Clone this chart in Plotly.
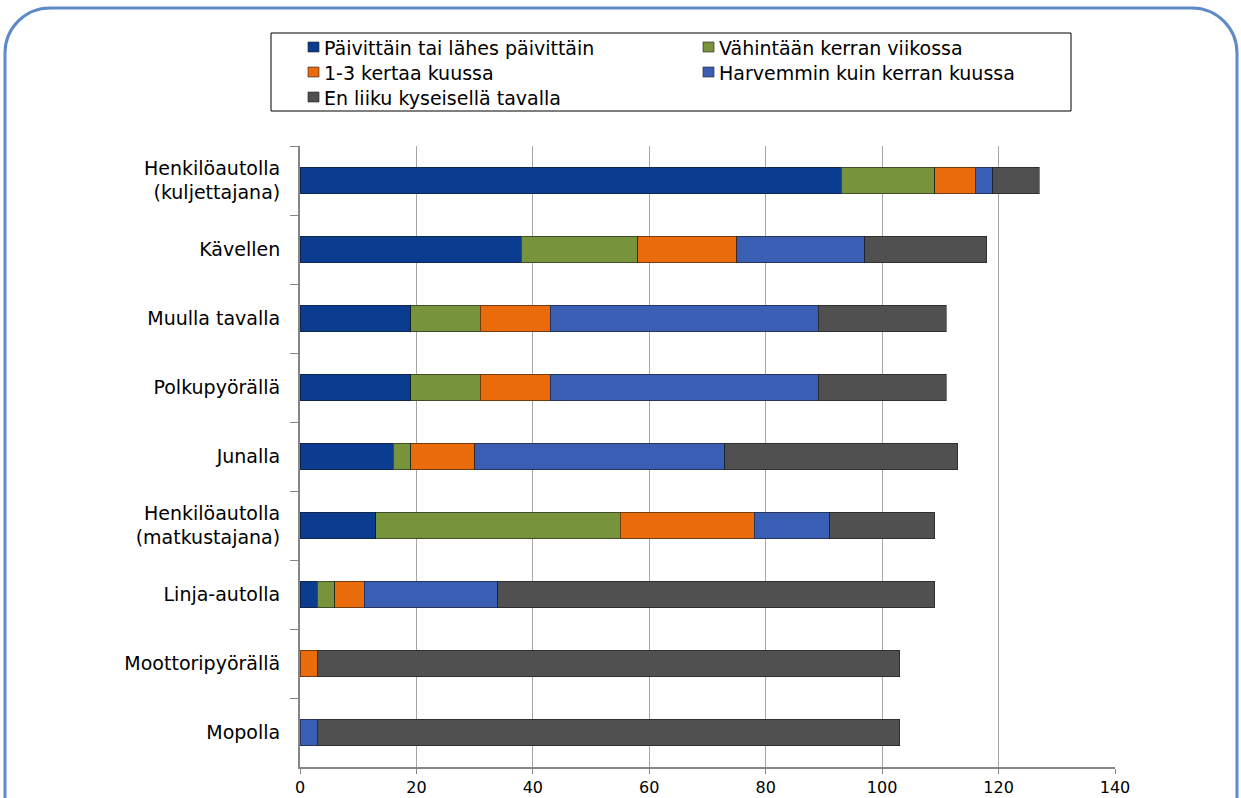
import plotly.graph_objects as go

# ---------------- data ----------------
categories = [
    "Henkilöautolla<br>(kuljettajana)",
    "Kävellen",
    "Muulla tavalla",
    "Polkupyörällä",
    "Junalla",
    "Henkilöautolla<br>(matkustajana)",
    "Linja-autolla",
    "Moottoripyörällä",
    "Mopolla",
]
series_names = [
    "Päivittäin tai lähes päivittäin",
    "Vähintään kerran viikossa",
    "1-3 kertaa kuussa",
    "Harvemmin kuin kerran kuussa",
    "En liiku kyseisellä tavalla",
]
paivittain = [93, 38, 19, 19, 16, 13, 3, 0, 0]
viikossa = [16, 20, 12, 12, 3, 42, 3, 0, 0]
kuussa_1_3 = [7, 17, 12, 12, 11, 23, 5, 3, 0]
harvemmin = [3, 22, 46, 46, 43, 13, 23, 0, 3]
en_liiku = [8, 21, 22, 22, 40, 18, 75, 100, 100]
x_ticks = [0, 20, 40, 60, 80, 100, 120, 140]

series_values = [paivittain, viikossa, kuussa_1_3, harvemmin, en_liiku]
colors = ["#0C3C90", "#77933C", "#E96B0C", "#3B5EB5", "#505050"]

# ---------------- layout helpers ----------------
W, H = 1241, 798
L, R, T, B = 300, 126, 146, 31
PW = W - L - R
PH = H - T - B


def pxx(x):
    return (x - L) / PW


def pyy(y):
    return (H - B - y) / PH


FONT = "DejaVu Sans, Liberation Sans, Arial, sans-serif"

fig = go.Figure()
for name, vals, col in zip(series_names, series_values, colors):
    fig.add_trace(go.Bar(
        x=vals, y=categories, orientation="h", name=name,
        marker=dict(color=col, line=dict(color="rgba(20,20,20,0.55)", width=1)),
        showlegend=False,
    ))

# outer rounded border (open at the bottom)
xl, xr, yt, yb = pxx(5), pxx(1237), pyy(8), pyy(900)
rx, ry = 45 / PW, 45 / PH
k = 0.5523
border_path = (
    f"M {xl},{yb} L {xl},{yt - ry} "
    f"C {xl},{yt - ry + k * ry} {xl + rx - k * rx},{yt} {xl + rx},{yt} "
    f"L {xr - rx},{yt} "
    f"C {xr - rx + k * rx},{yt} {xr},{yt - ry + k * ry} {xr},{yt - ry} "
    f"L {xr},{yb}"
)

shapes = [
    dict(type="path", xref="paper", yref="paper", path=border_path,
         line=dict(color="#5F8AC9", width=3), layer="above"),
    dict(type="rect", xref="paper", yref="paper",
         x0=pxx(271), x1=pxx(1071), y0=pyy(111), y1=pyy(33),
         line=dict(color="black", width=1), fillcolor="rgba(0,0,0,0)",
         layer="below"),
]
annotations = []

# legend drawn as a box of entries (row-major, two columns)
col_x = [308, 703]
row_y = [47, 72, 97]
for i, (name, col) in enumerate(zip(series_names, colors)):
    cx = col_x[i % 2]
    cy = row_y[i // 2]
    shapes.append(dict(
        type="rect", xref="paper", yref="paper",
        x0=pxx(cx), x1=pxx(cx + 11), y0=pyy(cy + 5), y1=pyy(cy - 5),
        fillcolor=col, line=dict(color="rgba(30,30,30,0.6)", width=1),
        layer="above",
    ))
    annotations.append(dict(
        xref="paper", yref="paper", x=pxx(cx + 14), y=pyy(cy + 1),
        xanchor="left", yanchor="middle", showarrow=False, text=name,
        font=dict(family=FONT, size=19, color="black"),
    ))

fig.update_layout(
    width=W, height=H,
    margin=dict(l=L, r=R, t=T, b=B, autoexpand=False),
    paper_bgcolor="white", plot_bgcolor="white",
    barmode="stack", bargap=0.61,
    font=dict(family=FONT, size=19, color="black"),
    showlegend=False,
    xaxis=dict(
        range=[0, 140], tickvals=x_ticks, ticktext=[str(v) for v in x_ticks],
        showgrid=True, gridcolor="#A6A6A6", gridwidth=1,
        showline=True, linecolor="#868686", linewidth=2,
        ticks="outside", ticklen=5, tickcolor="#868686",
        tickfont=dict(family=FONT, size=16, color="black"),
        zeroline=False, fixedrange=True,
    ),
    yaxis=dict(
        autorange="reversed", showgrid=False,
        showline=True, linecolor="#868686", linewidth=2,
        ticks="outside", tickson="boundaries", ticklen=8, tickcolor="#868686",
        ticklabelstandoff=14,
        tickfont=dict(family=FONT, size=19, color="black"),
        fixedrange=True,
    ),
    shapes=shapes,
    annotations=annotations,
)

fig.write_html("out.html", config={"displayModeBar": False})
